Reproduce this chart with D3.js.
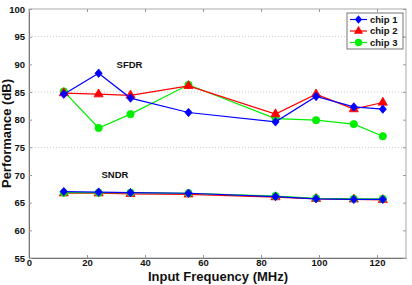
<!DOCTYPE html>
<html lang="en">
<head>
  <meta charset="UTF-8">
  <title>Performance vs Input Frequency</title>
  <script src="https://d3js.org/d3.v7.min.js"></script>
  <style>
    body { margin: 0; background: #fff; }
    text { font-family: Arial, "Liberation Sans", sans-serif; font-weight: bold; }
  </style>
</head>
<body>
  <div id="chart"></div>
  <script>
    // Data
    const freqs = [12, 24, 35, 55, 85, 99, 112, 122];
    const chipNames = ["chip 1", "chip 2", "chip 3"];
    const sfdrChip1 = [84.6, 88.4, 83.9, 81.3, 79.6, 84.2, 82.3, 81.9];
    const sfdrChip2 = [84.8, 84.6, 84.4, 86.1, 81.0, 84.6, 81.9, 83.1];
    const sfdrChip3 = [85.1, 78.5, 81.0, 86.3, 80.2, 79.9, 79.2, 77.0];
    const sndrChip1 = [67.0, 66.9, 66.8, 66.7, 66.1, 65.7, 65.6, 65.6];
    const sndrChip2 = [66.7, 66.7, 66.6, 66.5, 66.0, 65.7, 65.6, 65.5];
    const sndrChip3 = [66.8, 66.8, 66.8, 66.7, 66.2, 65.8, 65.7, 65.7];
    const xTicks = [0, 20, 40, 60, 80, 100, 120];
    const yTicks = [55, 60, 65, 70, 75, 80, 85, 90, 95, 100];
    const gridLevels = [75, 85, 95];

    const W = 412, H = 285;
    const margin = { top: 9, right: 6, bottom: 27, left: 29 };
    const width = W - margin.left - margin.right;
    const height = H - margin.top - margin.bottom;

    const colors = ["#0000ff", "#ff0000", "#00ee00"];

    // matlab-like diamond (roughly as wide as tall)
    const diamond = {
      draw(ctx, size) {
        const h = Math.sqrt(size) * 0.62, w = h * 0.85;
        ctx.moveTo(0, -h); ctx.lineTo(w, 0); ctx.lineTo(0, h); ctx.lineTo(-w, 0); ctx.closePath();
      }
    };
    const markers = [diamond, d3.symbolTriangle, d3.symbolCircle];
    const markerSizes = [46, 36, 42];

    const svg = d3.select("#chart").append("svg")
      .attr("width", W).attr("height", H);
    const g = svg.append("g")
      .attr("transform", `translate(${margin.left},${margin.top})`);

    const x = d3.scaleLinear().domain([0, 130]).range([0, width]);
    const y = d3.scaleLinear().domain([55, 100]).range([height, 0]);

    // grid
    g.selectAll(".grid").data(gridLevels).enter().append("line")
      .attr("x1", 0).attr("x2", width)
      .attr("y1", d => y(d)).attr("y2", d => y(d))
      .attr("stroke", "#bbb").attr("stroke-width", 0.8)
      .attr("stroke-dasharray", "1,2");

    // frame
    g.append("rect").attr("width", width).attr("height", height)
      .attr("fill", "none").attr("stroke", "#aaa").attr("stroke-width", 1);

    // axes (ticks inward)
    const xAxis = g.append("g").attr("transform", `translate(0,${height})`)
      .call(d3.axisBottom(x).tickValues(xTicks).tickSizeInner(-3).tickSizeOuter(0).tickPadding(1));
    const yAxis = g.append("g")
      .call(d3.axisLeft(y).tickValues(yTicks).tickSizeInner(-3).tickSizeOuter(0).tickPadding(4));
    [xAxis, yAxis].forEach(a => {
      a.select(".domain").attr("stroke", "#777");
      a.selectAll(".tick line").attr("stroke", "#999");
      a.selectAll(".tick text").attr("font-size", "9.5px").attr("fill", "#111");
    });
    // top and right ticks
    g.append("g").call(d3.axisTop(x).tickValues(xTicks).tickSizeInner(-3).tickSizeOuter(0).tickFormat(""))
      .call(a => { a.select(".domain").remove(); a.selectAll("line").attr("stroke", "#999"); });
    g.append("g").attr("transform", `translate(${width},0)`)
      .call(d3.axisRight(y).tickValues(yTicks).tickSizeInner(-3).tickSizeOuter(0).tickFormat(""))
      .call(a => { a.select(".domain").remove(); a.selectAll("line").attr("stroke", "#999"); });

    // axis labels
    g.append("text").attr("x", 218 - margin.left).attr("y", height + 22.5)
      .attr("text-anchor", "middle").attr("font-size", "13px").attr("fill", "#111")
      .text("Input Frequency (MHz)");
    g.append("text").attr("transform", "rotate(-90)")
      .attr("x", -height / 2).attr("y", -18.5)
      .attr("text-anchor", "middle").attr("font-size", "13px").attr("fill", "#111")
      .text("Performance (dB)");

    // series (SNDR first so SFDR sits on top; chip 1 drawn last)
    const series = [
      { chip: 1, vals: sndrChip2 }, { chip: 2, vals: sndrChip3 }, { chip: 0, vals: sndrChip1 },
      { chip: 2, vals: sfdrChip3 }, { chip: 1, vals: sfdrChip2 }, { chip: 0, vals: sfdrChip1 }
    ];
    const line = d3.line().x((d, i) => x(freqs[i])).y(d => y(d));

    series.forEach(s => {
      const c = colors[s.chip];
      g.append("path").datum(s.vals).attr("d", line)
        .attr("fill", "none").attr("stroke", c).attr("stroke-width", 1.2);
      g.selectAll(null).data(s.vals).enter().append("path")
        .attr("transform", (d, i) => `translate(${x(freqs[i])},${y(d)})`)
        .attr("d", d3.symbol().type(markers[s.chip]).size(markerSizes[s.chip]))
        .attr("fill", c).attr("stroke", c).attr("stroke-width", 0.8);
    });

    // annotations
    g.append("text").attr("x", x(30.2)).attr("y", y(89.3))
      .attr("font-size", "9.5px").attr("fill", "#111").text("SFDR");
    g.append("text").attr("x", x(25)).attr("y", y(69.4))
      .attr("font-size", "9.5px").attr("fill", "#111").text("SNDR");

    // legend
    const leg = svg.append("g").attr("transform", "translate(347,13)");
    leg.append("rect").attr("width", 56).attr("height", 36)
      .attr("fill", "#fff").attr("stroke", "#555").attr("stroke-width", 0.8);
    chipNames.forEach((name, i) => {
      const ly = 6.5 + i * 11.5;
      leg.append("line").attr("x1", 3).attr("x2", 20).attr("y1", ly).attr("y2", ly)
        .attr("stroke", colors[i]).attr("stroke-width", 1.2);
      leg.append("path").attr("transform", `translate(11.5,${ly})`)
        .attr("d", d3.symbol().type(markers[i]).size(markerSizes[i]))
        .attr("fill", colors[i]);
      leg.append("text").attr("x", 23).attr("y", ly + 3.3)
        .attr("font-size", "9.5px").attr("fill", "#111").text(name);
    });
  </script>
</body>
</html>
